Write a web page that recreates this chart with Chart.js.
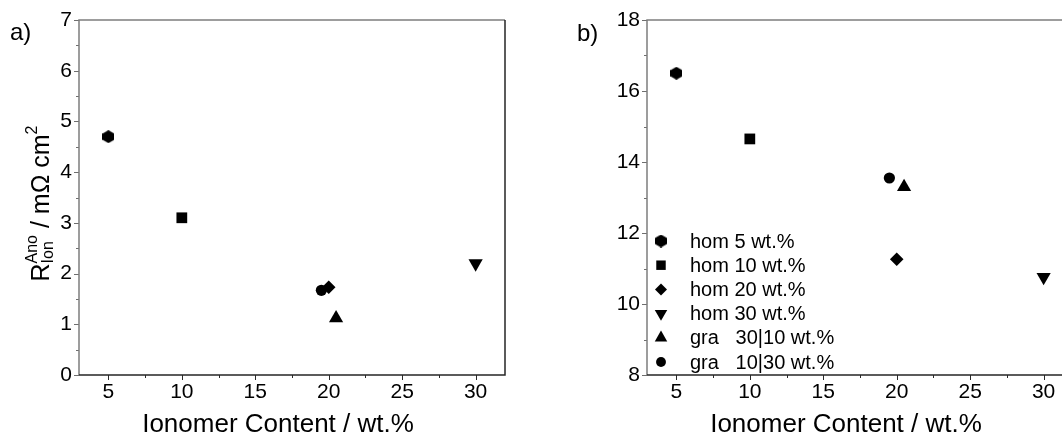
<!DOCTYPE html>
<html>
<head>
<meta charset="utf-8">
<title>Ionomer content: ionic resistance and ECSA</title>
<script src="https://cdn.jsdelivr.net/npm/chart.js@4/dist/chart.umd.min.js"></script>
<style>
  html, body { margin: 0; padding: 0; background: #fff; overflow: hidden; width: 1062px; height: 436px; }
  .panel { position: absolute; top: 0; height: 436px; }
  #panelA { left: 0; width: 530px; }
  #panelB { left: 530px; width: 570px; }
</style>
</head>
<body>
<div class="panel" id="panelA"><canvas id="chartA"></canvas></div>
<div class="panel" id="panelB"><canvas id="chartB"></canvas></div>
<script>
// ---- data ----
const seriesNames = ['hom 5 wt.%', 'hom 10 wt.%', 'hom 20 wt.%', 'hom 30 wt.%', 'gra   30|10 wt.%', 'gra   10|30 wt.%'];
const ionomerContent = [5, 10, 20, 30, 20.5, 19.5];          // wt.%
const ionResistance = [4.70, 3.10, 1.73, 2.20, 1.12, 1.67];   // mΩ cm²
const ecsa = [16.50, 14.65, 11.26, 10.76, 13.30, 13.55];      // m² g⁻¹
const xTicks = [5, 10, 15, 20, 25, 30];
const yTicksA = [0, 1, 2, 3, 4, 5, 6, 7];
const yTicksB = [8, 10, 12, 14, 16, 18];

// ---- styling ----
const FONT = "'Liberation Sans', Arial, Helvetica, sans-serif";
Chart.defaults.font.family = FONT;
Chart.defaults.color = '#000';

function hexagonMarker(w, h, color) {
  const c = document.createElement('canvas');
  c.width = w; c.height = h;
  const g = c.getContext('2d');
  g.fillStyle = color;
  g.beginPath();
  g.moveTo(w / 2, 0);
  g.lineTo(w, h * 0.27);
  g.lineTo(w, h * 0.73);
  g.lineTo(w / 2, h);
  g.lineTo(0, h * 0.73);
  g.lineTo(0, h * 0.27);
  g.closePath();
  g.fill();
  return c;
}
const hexImg = hexagonMarker(12, 13, '#000');

const markerStyles = [
  { pointStyle: hexImg, radius: 6.5, rotation: 0 },
  { pointStyle: 'rect', radius: 7.6, rotation: 0 },
  { pointStyle: 'rectRot', radius: 6.8, rotation: 0 },
  { pointStyle: 'triangle', radius: 8.2, rotation: 180 },
  { pointStyle: 'triangle', radius: 8.2, rotation: 0 },
  { pointStyle: 'circle', radius: 5.6, rotation: 0 }
];

function buildDatasets(yValues) {
  return seriesNames.map((name, i) => ({
    label: name,
    data: [{ x: ionomerContent[i], y: yValues[i] }],
    pointStyle: markerStyles[i].pointStyle,
    pointRadius: markerStyles[i].radius,
    pointHoverRadius: markerStyles[i].radius,
    pointRotation: markerStyles[i].rotation,
    backgroundColor: '#000',
    borderColor: '#000',
    borderWidth: 0,
    showLine: false
  }));
}

// rich text along a baseline: segments {t, size, dy} or {sup, sub, size}
function richWidth(ctx, segs) {
  let w = 0;
  for (const s of segs) {
    ctx.font = s.size + 'px ' + FONT;
    if (s.sup !== undefined) w += Math.max(ctx.measureText(s.sup).width, ctx.measureText(s.sub).width);
    else w += ctx.measureText(s.t).width;
  }
  return w;
}
function drawRich(ctx, segs, x0, base) {
  let x = x0;
  ctx.textBaseline = 'alphabetic';
  ctx.textAlign = 'left';
  for (const s of segs) {
    ctx.font = s.size + 'px ' + FONT;
    if (s.sup !== undefined) {
      ctx.fillText(s.sup, x, base - 12);
      ctx.fillText(s.sub, x, base + 4);
      x += Math.max(ctx.measureText(s.sup).width, ctx.measureText(s.sub).width);
    } else {
      ctx.fillText(s.t, x, base + (s.dy || 0));
      x += ctx.measureText(s.t).width;
    }
  }
}

// frame, outward major/minor ticks, titles, panel letter and legend
const panelDecor = {
  id: 'panelDecor',
  afterDraw(chart, args, o) {
    const { ctx, chartArea: a, scales: { x, y } } = chart;
    ctx.save();
    // ticks
    ctx.lineWidth = 1;
    for (let k = Math.ceil(x.min / o.xMinor); k * o.xMinor <= x.max + 1e-9; k++) {
      const v = k * o.xMinor;
      const major = Math.abs(v / o.xMajor - Math.round(v / o.xMajor)) < 1e-6;
      const px = Math.round(x.getPixelForValue(v)) + 0.5;
      ctx.strokeStyle = '#2a2a2a';
      ctx.beginPath(); ctx.moveTo(px, a.bottom); ctx.lineTo(px, a.bottom + (major ? 5 : 3)); ctx.stroke();
    }
    for (let k = Math.ceil(y.min / o.yMinor); k * o.yMinor <= y.max + 1e-9; k++) {
      const v = k * o.yMinor;
      const major = Math.abs(v / o.yMajor - Math.round(v / o.yMajor)) < 1e-6;
      const py = Math.round(y.getPixelForValue(v)) + 0.5;
      ctx.strokeStyle = '#6e6e6e';
      ctx.beginPath(); ctx.moveTo(a.left, py); ctx.lineTo(a.left - (major ? 5 : 3), py); ctx.stroke();
    }
    // frame
    ctx.lineWidth = 1.5;
    ctx.strokeStyle = '#7d7d7d';
    ctx.beginPath(); ctx.moveTo(a.left, a.bottom); ctx.lineTo(a.left, a.top); ctx.lineTo(a.right, a.top); ctx.stroke();
    ctx.strokeStyle = '#262626';
    ctx.beginPath(); ctx.moveTo(a.left, a.bottom); ctx.lineTo(a.right, a.bottom); ctx.lineTo(a.right, a.top); ctx.stroke();

    ctx.fillStyle = '#000';
    // x title
    ctx.font = '26px ' + FONT;
    ctx.textAlign = 'center';
    ctx.textBaseline = 'alphabetic';
    ctx.fillText(o.xTitle, (a.left + a.right) / 2 - 14, 432);
    // y title (rotated)
    const w = richWidth(ctx, o.yTitle);
    ctx.save();
    ctx.translate(o.yTitleBase, (a.top + a.bottom) / 2 + 6);
    ctx.rotate(-Math.PI / 2);
    drawRich(ctx, o.yTitle, -w / 2, 0);
    ctx.restore();
    // panel letter
    ctx.font = '24px ' + FONT;
    ctx.textAlign = 'left';
    ctx.fillText(o.letter, o.letterX, o.letterY);
    // legend
    if (o.legend) {
      ctx.font = '20px ' + FONT;
      ctx.textBaseline = 'middle';
      chart.data.datasets.forEach((ds, i) => {
        const ly = o.legend.y + i * o.legend.step;
        ctx.fillStyle = '#000';
        Chart.helpers.drawPoint(ctx, {
          pointStyle: ds.pointStyle, rotation: ds.pointRotation,
          radius: ds.pointRadius * 0.88, borderWidth: 0
        }, o.legend.x, ly);
        ctx.fillStyle = '#000';
        ctx.fillText(ds.label, o.legend.x + 29, ly + 1);
      });
    }
    ctx.restore();
  }
};

function scaleOptions(min, max, tickValues, padding, isX, fitSize) {
  return {
    type: 'linear',
    position: isX ? 'bottom' : 'left',
    min: min, max: max,
    afterBuildTicks: s => { s.ticks = tickValues.map(v => ({ value: v })); },
    afterFit: s => { if (isX) s.height = fitSize; else s.width = fitSize; },
    grid: { display: false, drawTicks: false },
    border: { display: false },
    ticks: { font: { size: 21 }, color: '#000', padding: padding, maxRotation: 0, autoSkip: false }
  };
}

function makeChart(id, yValues, yMin, yMax, yTicks, leftWidth, rightPad, decor) {
  return new Chart(document.getElementById(id), {
    type: 'scatter',
    data: { datasets: buildDatasets(yValues) },
    options: {
      responsive: true,
      maintainAspectRatio: false,
      animation: false,
      events: [],
      layout: { padding: { top: 20, right: rightPad, left: 0, bottom: 0 } },
      scales: {
        x: scaleOptions(3, 32, xTicks, 5, true, 61),
        y: scaleOptions(yMin, yMax, yTicks, 7, false, leftWidth)
      },
      plugins: {
        legend: { display: false },
        tooltip: { enabled: false },
        panelDecor: decor
      }
    },
    plugins: [panelDecor]
  });
}

makeChart('chartA', ionResistance, 0, 7, yTicksA, 79, 25, {
  xMajor: 5, xMinor: 2.5, yMajor: 1, yMinor: 0.5,
  xTitle: 'Ionomer Content / wt.%',
  yTitle: [
    { t: 'R', size: 25 },
    { sup: 'Ano', sub: 'Ion', size: 16 },
    { t: ' / mΩ cm', size: 25 },
    { t: '2', size: 16, dy: -12 }
  ],
  yTitleBase: 49,
  letter: 'a)', letterX: 10, letterY: 40
});

makeChart('chartB', ecsa, 8, 18, yTicksB, 117, 27, {
  xMajor: 5, xMinor: 2.5, yMajor: 2, yMinor: 1,
  xTitle: 'Ionomer Content / wt.%',
  yTitle: [
    { t: 'ECSA / m', size: 26.5 },
    { t: '2', size: 17, dy: -13 },
    { t: ' g', size: 26.5 },
    { t: '-1', size: 17, dy: -13 }
  ],
  yTitleBase: 605,
  letter: 'b)', letterX: 47, letterY: 41,
  legend: { x: 131, y: 241, step: 24.2 }
});
</script>
</body>
</html>
